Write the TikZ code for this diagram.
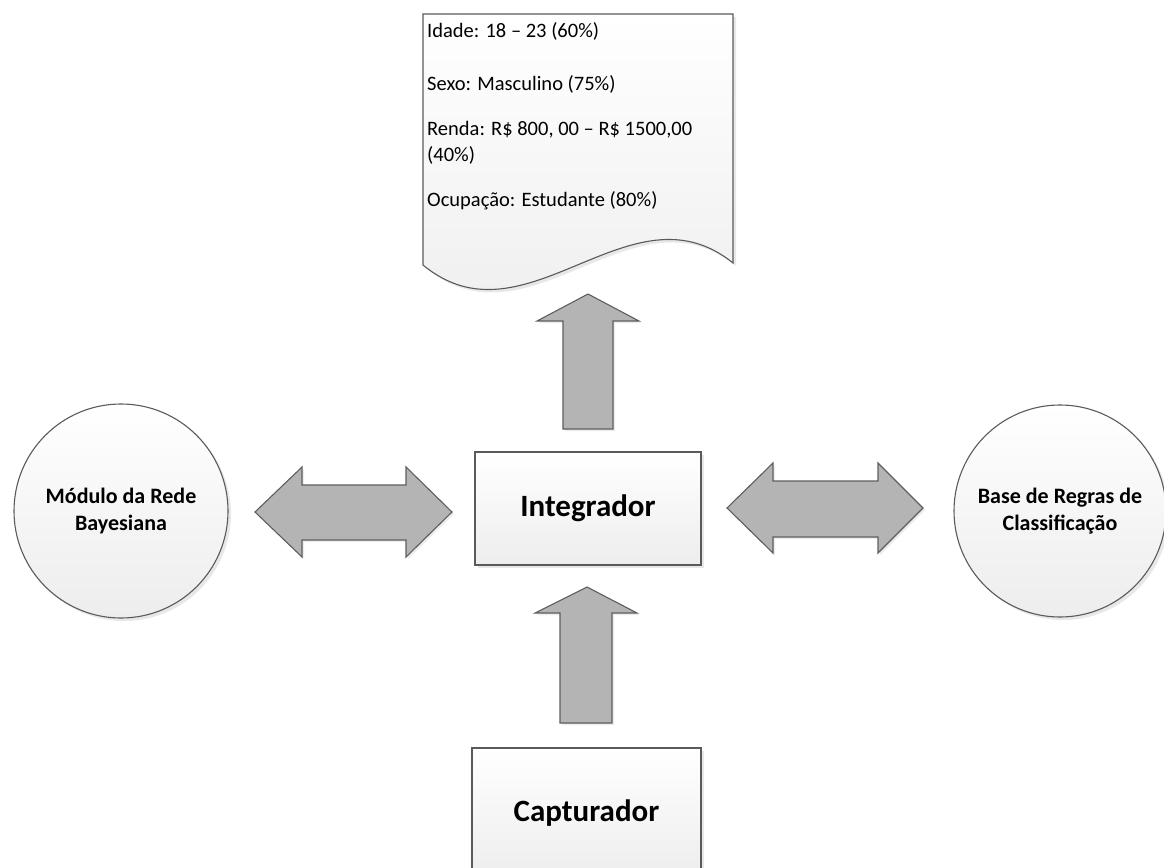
\documentclass[tikz,border=0pt]{standalone}
\usepackage{fontspec}
\setmainfont{Carlito}
\usetikzlibrary{shadows}
\definecolor{edge}{HTML}{5A5A5A}
\definecolor{arrowfill}{HTML}{B4B4B4}
\definecolor{arrowedge}{HTML}{5E5E5E}
\definecolor{panelbottom}{HTML}{EDEDED}
\tikzset{
  panel/.style={draw=edge, line width=1.1pt, shading=axis, top color=white,
    bottom color=panelbottom,
    drop shadow={opacity=0.18, shadow xshift=3pt, shadow yshift=-3pt}},
  boxnode/.style={panel, rectangle, inner sep=0pt,
    font=\fontsize{31}{36}\selectfont\bfseries},
  circnode/.style={panel, circle, inner sep=0pt, align=center,
    font=\fontsize{22}{27}\selectfont\bfseries},
  blockarrow/.style={draw=arrowedge, fill=arrowfill, line width=1.1pt,
    line join=miter,
    drop shadow={opacity=0.15, shadow xshift=2pt, shadow yshift=-2pt}},
}
\begin{document}
\begin{tikzpicture}[x=1pt, y=-1pt]
\useasboundingbox (0,0) rectangle (1164,867);
\clip (0,0) rectangle (1164,867);
\fill[white] (0,0) rectangle (1164,867);

% central components
\node[boxnode, minimum width=226pt, minimum height=113pt] (integ) at (588,508.5) {Integrador};
\node[boxnode, minimum width=229pt, minimum height=130pt] (capt) at (586.5,813) {Capturador};

% side modules
\node[circnode, minimum size=214pt] (bayes) at (121,511) {Módulo da Rede\\Bayesiana};
\node[circnode, minimum size=212pt] (rules) at (1060,511) {Base de Regras de\\Classificação};

% output document with wavy bottom edge
\path[panel] (423,14) -- (733,14) -- (733,263)
  .. controls (630,180) and (526,350) .. (423,265) -- cycle;
\node[anchor=north west, inner sep=0pt, align=left,
  font=\fontsize{20.5}{26}\selectfont] (doctext) at (427,22)
  {Idade: 18 – 23 (60\%)\\[27pt]
   Sexo: Masculino (75\%)\\[19pt]
   Renda: R\$ 800, 00 – R\$ 1500,00\\
   (40\%)\\[19pt]
   Ocupação: Estudante (80\%)};

% block arrows: integrator -> document
\path[blockarrow] (588,294) -- (639,321) -- (613,321) -- (613,429)
  -- (563,429) -- (563,321) -- (537,321) -- cycle;
% capturer -> integrator
\path[blockarrow] (587,587) -- (637,613) -- (612,613) -- (612,723)
  -- (560,723) -- (560,613) -- (535,613) -- cycle;
% bayesian module <-> integrator
\path[blockarrow] (255,512) -- (302,467) -- (302,485) -- (406,485)
  -- (406,467) -- (452,512) -- (406,557) -- (406,540) -- (302,540)
  -- (302,557) -- cycle;
% integrator <-> rule base
\path[blockarrow] (727,508) -- (773,463) -- (773,481) -- (878,481)
  -- (878,463) -- (923,508) -- (878,553) -- (878,537) -- (773,537)
  -- (773,553) -- cycle;
\end{tikzpicture}
\end{document}
